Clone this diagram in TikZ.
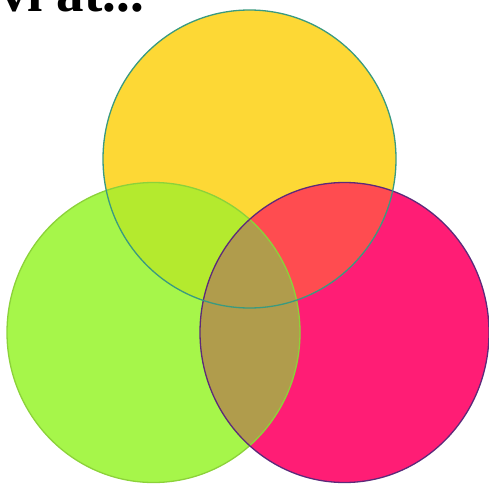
\documentclass[tikz,border=0pt]{standalone}
\usepackage{fontspec}
\newfontfamily\headfont{Liberation Serif}
\usepackage{tikz}
\definecolor{sunfill}{RGB}{253, 216, 53}
\definecolor{limefill}{RGB}{166, 246, 74}
\definecolor{rosefill}{RGB}{255, 29, 117}
\definecolor{sunlime}{RGB}{180, 234, 46}
\definecolor{sunrose}{RGB}{255, 76, 80}
\definecolor{limerose}{RGB}{176, 156, 76}
\definecolor{sunedge}{RGB}{58, 154, 128}
\definecolor{limeedge}{RGB}{140, 210, 58}
\definecolor{roseedge}{RGB}{92, 42, 122}
\tikzset{
  ringedge/.style={line width=1.3pt},
  headtext/.style={anchor=base west, inner sep=0pt,
    font=\headfont\bfseries\fontsize{55}{60}\selectfont}
}

\begin{document}
\begin{tikzpicture}[x=1pt, y=-1pt]
  \useasboundingbox (0,0) rectangle (489,484);
  \clip (0,0) rectangle (489,484);

  % centres of the three rings
  \coordinate (sun) at (249.5,159);
  \coordinate (lime) at (153.5,332.5);
  \coordinate (rose) at (344.5,332.5);
  \def\sunring{(sun) ellipse[x radius=146.5, y radius=149]}
  \def\limering{(lime) ellipse[x radius=146.5, y radius=150]}
  \def\rosering{(rose) ellipse[x radius=144.5, y radius=150]}

  % heading, cut at the top edge
  \node[headtext] (head) at (0,12) {vi at...};

  % plain discs
  \fill[sunfill] \sunring;
  \fill[limefill] \limering;
  \fill[rosefill] \rosering;

  % overlaps
  \begin{scope}
    \clip \sunring;
    \fill[sunlime] \limering;
    \fill[sunrose] \rosering;
  \end{scope}
  \begin{scope}
    \clip \limering;
    \fill[limerose] \rosering;
  \end{scope}

  % outlines
  \draw[ringedge, limeedge] \limering;
  \draw[ringedge, roseedge] \rosering;
  \draw[ringedge, sunedge] \sunring;
\end{tikzpicture}
\end{document}
